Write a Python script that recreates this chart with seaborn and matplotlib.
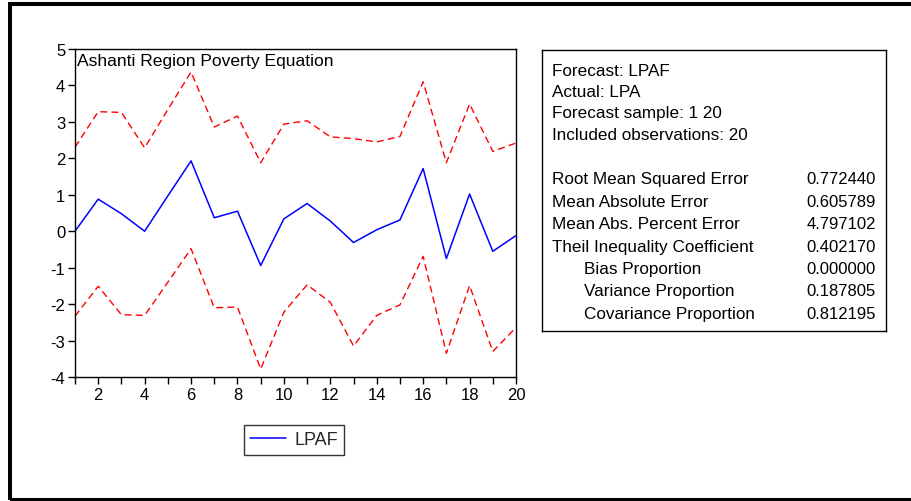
import matplotlib
matplotlib.use("Agg")
import matplotlib.pyplot as plt
from matplotlib.patches import Rectangle
import numpy as np
import pandas as pd
import seaborn as sns

# Forecast series and +/- 2 S.E. bands
obs = list(range(1, 21))
lpaf = [0.00, 0.88, 0.48, 0.00, 0.97, 1.93, 0.37, 0.55, -0.94, 0.34,
        0.76, 0.28, -0.31, 0.04, 0.31, 1.72, -0.75, 1.02, -0.55, -0.12]
upper = [2.31, 3.28, 3.26, 2.29, 3.34, 4.37, 2.86, 3.16, 1.88, 2.94,
         3.03, 2.59, 2.54, 2.45, 2.60, 4.10, 1.88, 3.49, 2.19, 2.42]
lower = [-2.33, -1.51, -2.29, -2.31, -1.40, -0.48, -2.10, -2.08, -3.78, -2.22,
         -1.47, -1.95, -3.15, -2.31, -2.02, -0.69, -3.35, -1.49, -3.30, -2.64]

x_ticks = [2, 4, 6, 8, 10, 12, 14, 16, 18, 20]
y_ticks = [-4, -3, -2, -1, 0, 1, 2, 3, 4, 5]

header_lines = ["Forecast: LPAF", "Actual: LPA", "Forecast sample: 1 20",
                "Included observations: 20"]
stat_names = ["Root Mean Squared Error", "Mean Absolute Error",
              "Mean Abs. Percent Error", "Theil Inequality Coefficient",
              "Bias Proportion", "Variance Proportion", "Covariance Proportion"]
stat_values = ["0.772440", "0.605789", "4.797102", "0.402170",
               "0.000000", "0.187805", "0.812195"]
stat_indent = [False, False, False, False, True, True, True]

sns.set_theme(style="white")
plt.rcParams["font.family"] = ["Liberation Sans", "DejaVu Sans"]

W, H = 911, 502
fig = plt.figure(figsize=(W / 100, H / 100), dpi=100)
fig.patch.set_facecolor("white")

def fx(px):
    return px / W

def fy(py):
    return 1 - py / H

ax = fig.add_axes([fx(75), fy(378), fx(516) - fx(75), fy(50) - fy(378)])
df = pd.DataFrame({"obs": obs, "LPAF": lpaf, "upper": upper, "lower": lower})

sns.lineplot(data=df, x="obs", y="upper", ax=ax, color="#ff0000", lw=1.0,
             linestyle=(0, (5, 3)), legend=False)
sns.lineplot(data=df, x="obs", y="lower", ax=ax, color="#ff0000", lw=1.0,
             linestyle=(0, (5, 3)), legend=False)
sns.lineplot(data=df, x="obs", y="LPAF", ax=ax, color="#0000ff", lw=1.1,
             label="LPAF", legend=False)

ax.set_xlim(1, 20)
ax.set_ylim(-4, 5)
ax.set_xticks(obs)
ax.set_xticklabels([str(v) if v in x_ticks else "" for v in obs])
ax.set_yticks(y_ticks)
ax.set_yticklabels([str(v) for v in y_ticks])
ax.set_xlabel("")
ax.set_ylabel("")
ax.tick_params(axis="both", direction="out", length=5, width=1.0,
               color="black", labelsize=12, labelcolor="black",
               bottom=True, left=True, pad=2)
for s in ax.spines.values():
    s.set_color("black")
    s.set_linewidth(1.0)
ax.text(0.004, 0.988, "Ashanti Region Poverty Equation", transform=ax.transAxes,
        ha="left", va="top", fontsize=12.6, color="black")

handles, labels = ax.get_legend_handles_labels()
leg = fig.legend(handles, labels, loc="center",
                 bbox_to_anchor=(fx(294), fy(441)), fontsize=13,
                 frameon=True, fancybox=False, handlelength=2.0,
                 handletextpad=0.45, borderpad=0.35, borderaxespad=0)
leg.get_frame().set_edgecolor("black")
leg.get_frame().set_linewidth(1.0)

# Statistics panel
bx = fig.add_axes([fx(542), fy(332), fx(886) - fx(542), fy(51) - fy(332)])
bx.set_xlim(542, 886)
bx.set_ylim(332, 51)
bx.set_xticks([])
bx.set_yticks([])
for s in bx.spines.values():
    s.set_color("black")
    s.set_linewidth(1.0)
    s.set_visible(True)

word_size = 12.3
num_size = 12.0
y0 = 71
step = 21.4
for i, t in enumerate(header_lines):
    bx.text(552, y0 + i * step, t, ha="left", va="center", fontsize=word_size,
            color="black")
ys = 180
for i, (name, val, ind) in enumerate(zip(stat_names, stat_values, stat_indent)):
    yy = ys + i * 22.4
    bx.text(584 if ind else 552, yy, name, ha="left", va="center",
            fontsize=word_size, color="black")
    bx.text(876, yy, val, ha="right", va="center", fontsize=num_size,
            color="black")

# Heavy outer frame
fig.add_artist(Rectangle((fx(10), fy(500.5)), fx(920) - fx(10),
                         fy(5) - fy(500.5), transform=fig.transFigure,
                         fill=False, edgecolor="black", linewidth=2.9))

fig.savefig("out.png", dpi=100, facecolor="white")
